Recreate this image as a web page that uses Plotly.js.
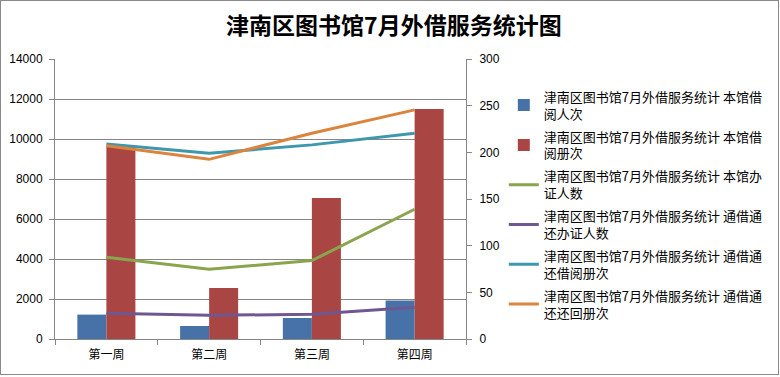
<!DOCTYPE html>
<html>
<head>
<meta charset="utf-8">
<script src="https://cdn.plot.ly/plotly-3.0.1.min.js"></script>
<style>
  body { margin: 0; padding: 0; background: #fff; }
  #wrap { position: relative; width: 780px; height: 377px; }
  #chart { width: 780px; height: 377px; }
  #frame { position: absolute; left: 0; top: 0; width: 777px; height: 373px; border: 1px solid #8a8a8a; pointer-events: none; }
</style>
</head>
<body>
<div id="wrap"><div id="chart"></div><div id="frame"></div></div>
<script>
const categories = ['第一周', '第二周', '第三周', '第四周'];
const prefix = '津南区图书馆7月外借服务统计 ';
const seriesNames = [
  prefix + '本馆借<br>阅人次',
  prefix + '本馆借<br>阅册次',
  prefix + '本馆办<br>证人数',
  prefix + '通借通<br>还办证人数',
  prefix + '通借通<br>还借阅册次',
  prefix + '通借通<br>还还回册次'
];
// bars (left axis)
const localReaders = [1220, 650, 1050, 1920];
const localVolumes = [9650, 2550, 7050, 11500];
// lines (right axis)
const localCards = [87.5, 74.7, 84, 139];
const unionCards = [27.5, 25.4, 26.4, 34];
const unionBorrowed = [209, 199, 208, 220.5];
const unionReturned = [207, 192.5, 220.5, 245.5];

const colors = ['#4672A8', '#A94643', '#89A54E', '#6F5792', '#3F97AE', '#DB843D'];
const font = 'Liberation Sans, Noto Sans CJK SC, sans-serif';
const cjk = 'Noto Sans CJK SC, sans-serif';

const traces = [
  {type: 'bar', x: categories, y: localReaders, name: seriesNames[0], marker: {color: colors[0]}, legendgroup: 'a'},
  {type: 'bar', x: categories, y: localVolumes, name: seriesNames[1], marker: {color: colors[1]}, legendgroup: 'b'},
  {type: 'scatter', mode: 'lines', x: categories, y: localCards, yaxis: 'y2', name: seriesNames[2], line: {color: colors[2], width: 3}, legendgroup: 'c'},
  {type: 'scatter', mode: 'lines', x: categories, y: unionCards, yaxis: 'y2', name: seriesNames[3], line: {color: colors[3], width: 3}, legendgroup: 'd'},
  {type: 'scatter', mode: 'lines', x: categories, y: unionBorrowed, yaxis: 'y2', name: seriesNames[4], line: {color: colors[4], width: 3}, legendgroup: 'e'},
  {type: 'scatter', mode: 'lines', x: categories, y: unionReturned, yaxis: 'y2', name: seriesNames[5], line: {color: colors[5], width: 3}, legendgroup: 'f'}
];

const layout = {
  width: 780, height: 377,
  margin: {l: 55, r: 314, t: 59, b: 38},
  paper_bgcolor: 'rgba(0,0,0,0)',
  plot_bgcolor: '#fff',
  showlegend: true,
  barmode: 'group',
  bargap: 0.435,
  bargroupgap: 0,
  title: {text: '<b>津南区图书馆7月外借服务统计图</b>', font: {family: cjk, size: 23, color: '#000'}, x: 0.505, xref: 'container', xanchor: 'center', y: 0.93, yref: 'container', yanchor: 'middle'},
  xaxis: {
    type: 'category', tickson: 'boundaries', ticks: 'outside', ticklen: 5, tickcolor: '#868686',
    showline: true, linecolor: '#868686', linewidth: 1, showgrid: false, ticklabelstandoff: 5,
    tickfont: {family: cjk, size: 12, color: '#000'}, fixedrange: true
  },
  yaxis: {
    range: [0, 14000], dtick: 2000, tickformat: 'd', ticks: 'outside', ticklen: 5, tickcolor: '#868686',
    showline: true, linecolor: '#868686', gridcolor: '#868686', gridwidth: 1, zeroline: false,
    ticklabelstandoff: 4,
    tickfont: {family: font, size: 12, color: '#000'}, fixedrange: true
  },
  yaxis2: {
    overlaying: 'y', side: 'right', range: [0, 300], dtick: 50, tickformat: 'd', ticks: 'outside', ticklen: 5, tickcolor: '#868686',
    showline: true, linecolor: '#868686', showgrid: false, zeroline: false,
    ticklabelstandoff: 5,
    tickfont: {family: font, size: 12, color: '#000'}, fixedrange: true
  },
  legend: {
    x: 1.092, xanchor: 'left', y: 0.919, yanchor: 'top',
    font: {family: cjk, size: 13, color: '#000'},
    tracegroupgap: 3, traceorder: 'grouped', bgcolor: 'rgba(0,0,0,0)'
  }
};

Plotly.newPlot('chart', traces, layout, {displayModeBar: false, staticPlot: true});
</script>
</body>
</html>
